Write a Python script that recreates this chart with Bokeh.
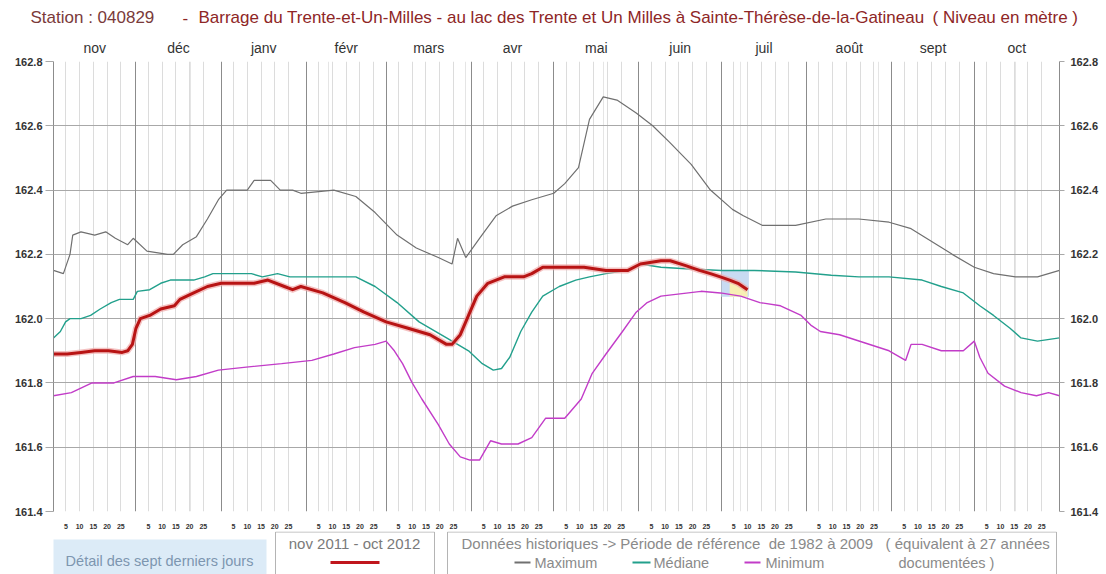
from bokeh.plotting import figure
from bokeh.layouts import column
from bokeh.models import (LinearAxis, FixedTicker, Range1d, Grid,
                          PrintfTickFormatter)
from bokeh.core.properties import value
from bokeh.embed import file_html
from bokeh.resources import INLINE

# ---------------- data ----------------
month_names = ["nov", "déc", "janv", "févr", "mars", "avr", "mai", "juin",
               "juil", "août", "sept", "oct"]
month_days = [30, 31, 31, 29, 31, 30, 31, 30, 31, 31, 30, 31]
day_labels = ["5", "10", "15", "20", "25"]
day_offsets = [4.5, 9.5, 14.5, 19.5, 24.5]
y_ticks = [161.4, 161.6, 161.8, 162.0, 162.2, 162.4, 162.6, 162.8]

# current year nov 2011 - oct 2012 (days since 1 Nov 2011)
cur_days = [0, 5, 10, 15, 20, 25, 27, 28.7, 30, 31.6, 35, 39, 44, 46, 51, 56, 61,
            65, 73, 78, 84, 87, 90, 98, 106, 113, 121, 129, 137, 143, 145, 148,
            151, 154, 158, 164, 171, 174, 178, 186, 193, 201, 209, 213.5, 221,
            224.4, 230, 235, 239, 242.6, 246, 249, 252.5]
cur_vals = [161.89, 161.89, 161.895, 161.90, 161.90, 161.895, 161.90, 161.92,
            161.97, 162.00, 162.01, 162.03, 162.04, 162.06, 162.08, 162.10,
            162.11, 162.11, 162.11, 162.12, 162.10, 162.09, 162.10, 162.08,
            162.05, 162.02, 161.99, 161.97, 161.95, 161.92, 161.92, 161.95,
            162.01, 162.07, 162.11, 162.13, 162.13, 162.14, 162.16, 162.16,
            162.16, 162.15, 162.15, 162.17, 162.18, 162.18, 162.165, 162.15,
            162.14, 162.13, 162.12, 162.11, 162.09]

max_days = [0, 3.6, 6, 7, 10, 15, 19, 22.5, 27, 29, 34, 41.5, 43.6, 47, 52, 56,
            60, 63, 70.5, 73, 79, 82.5, 87, 90, 102, 110, 117, 125, 132, 140,
            145, 147, 150, 155, 161, 167, 174, 182, 186, 191, 195, 200, 205,
            212, 218, 224, 232, 239, 247, 251, 258, 270, 281, 293, 304, 312,
            319.5, 327, 335, 342, 350, 358, 366]
max_vals = [162.15, 162.14, 162.20, 162.26, 162.27, 162.26, 162.27, 162.25,
            162.23, 162.25, 162.21, 162.20, 162.20, 162.23, 162.255, 162.31,
            162.37, 162.40, 162.40, 162.43, 162.43, 162.40, 162.40, 162.39,
            162.40, 162.38, 162.33, 162.26, 162.22, 162.19, 162.17, 162.25,
            162.19, 162.25, 162.32, 162.35, 162.37, 162.39, 162.42, 162.47,
            162.62, 162.69, 162.68, 162.64, 162.60, 162.55, 162.48, 162.40,
            162.34, 162.32, 162.29, 162.29, 162.31, 162.31, 162.30, 162.28,
            162.24, 162.20, 162.16, 162.14, 162.13, 162.13, 162.15]

med_days = [0, 2.5, 4.4, 6, 10, 13.5, 17, 21, 24, 29, 30.5, 35, 39, 42.5, 51,
            55, 58, 65.5, 72, 76, 81.5, 86, 90, 100, 110, 117, 125, 133, 143,
            151, 156, 160, 163, 166, 170, 174, 178, 184, 190, 195, 201, 209,
            213.5, 221, 230, 243, 255, 270, 283, 293, 304, 316, 323, 331, 337,
            342, 348, 352, 358, 366]
med_vals = [161.94, 161.96, 161.99, 162.00, 162.00, 162.01, 162.03, 162.05,
            162.06, 162.06, 162.085, 162.09, 162.11, 162.12, 162.12, 162.13,
            162.14, 162.14, 162.14, 162.13, 162.14, 162.13, 162.13, 162.13,
            162.13, 162.10, 162.05, 161.99, 161.94, 161.90, 161.86, 161.84,
            161.845, 161.88, 161.96, 162.02, 162.07, 162.10, 162.12, 162.13,
            162.14, 162.15, 162.17, 162.16, 162.155, 162.15, 162.15, 162.145,
            162.135, 162.13, 162.13, 162.12, 162.10, 162.08, 162.04, 162.01,
            161.97, 161.94, 161.93, 161.94]

min_days = [0, 6.5, 14, 22, 29, 37, 44.7, 52, 60, 71, 83, 94, 102, 109.5, 117,
            121, 124, 127, 130.5, 134, 140, 144, 148, 151.5, 155, 159, 163, 169,
            174, 179, 186, 192, 196, 201, 207, 212, 216, 221, 235.6, 242.6, 250,
            257, 264.5, 272, 275.5, 279, 286, 304, 310, 312, 316, 323, 331, 335,
            337, 340, 346, 352, 357.6, 362, 366]
min_vals = [161.76, 161.77, 161.80, 161.80, 161.82, 161.82, 161.81, 161.82,
            161.84, 161.85, 161.86, 161.87, 161.89, 161.91, 161.92, 161.93,
            161.90, 161.86, 161.80, 161.75, 161.67, 161.61, 161.57, 161.56,
            161.56, 161.62, 161.61, 161.61, 161.63, 161.69, 161.69, 161.75,
            161.83, 161.89, 161.96, 162.02, 162.05, 162.07, 162.085, 162.08,
            162.07, 162.05, 162.04, 162.01, 161.98, 161.96, 161.95, 161.90,
            161.87, 161.92, 161.92, 161.90, 161.90, 161.93, 161.88, 161.83,
            161.79, 161.77, 161.76, 161.77, 161.76]

# last seven days detail window
detail_days = [243, 253]
detail_range = [162.068, 162.15]

title_station = "Station : 040829"
title_main = "Barrage du Trente-et-Un-Milles - au lac des Trente et Un Milles à Sainte-Thérèse-de-la-Gatineau"
title_unit = "( Niveau en mètre )"
legend_detail = "Détail des sept derniers jours"
legend_period = "nov 2011 - oct 2012"
legend_hist = ("Données historiques -> Période de référence\u00a0 de 1982 à 2009"
               "\u00a0\u00a0 ( équivalent à 27 années")
legend_names = ["Maximum", "Médiane", "Minimum"]
legend_tail = "documentées )"

# ---------------- derived positions ----------------
month_starts = [sum(month_days[:i]) for i in range(len(month_days))]
total_days = sum(month_days)
month_centers = [s + n / 2 for s, n in zip(month_starts, month_days)]
day_pos = [s + o for s in month_starts for o in day_offsets]
day_overrides = {s + o: lab for s in month_starts
                 for o, lab in zip(day_offsets, day_labels)}

FONT = "Liberation Sans"
W = 1106

def blank(h, y0, y1):
    f = figure(width=W, height=h, output_backend="svg", toolbar_location=None,
               x_range=Range1d(0, W), y_range=Range1d(y1, y0),
               x_axis_location=None, y_axis_location=None,
               min_border_left=0, min_border_right=0,
               min_border_top=0, min_border_bottom=0, frame_align=False)
    f.outline_line_color = None
    f.xgrid.visible = False
    f.ygrid.visible = False
    f.background_fill_color = "white"
    f.border_fill_color = "white"
    return f

# ---------------- title strip (page y 0..36) ----------------
t = blank(36, 0, 36)
t.text(x=[30], y=[17], text=[title_station], text_font=value(FONT),
       text_font_size="17px", text_color="#7a3a3a", text_baseline="middle")
t.text(x=[182, 198, 932], y=[17, 17, 17], text=["-", title_main, title_unit],
       text_font=value(FONT), text_font_size="17px", text_color="#8e2626",
       text_baseline="middle")

# ---------------- main chart (page y 36..531) ----------------
p = figure(width=W, height=495, output_backend="svg", toolbar_location=None,
           x_range=Range1d(0, total_days), y_range=Range1d(161.4, 162.8),
           x_axis_location=None, y_axis_location=None,
           min_border_left=53, min_border_right=47, min_border_top=21,
           min_border_bottom=16, frame_align=False)
p.outline_line_color = None
p.background_fill_color = "white"
p.border_fill_color = "white"

p.add_layout(Grid(dimension=0, ticker=FixedTicker(ticks=day_pos),
                  grid_line_color="#dcdcdc", grid_line_width=1), "center")
p.add_layout(Grid(dimension=1, ticker=FixedTicker(ticks=y_ticks),
                  grid_line_color="#a8a8a8", grid_line_width=1), "center")
p.add_layout(Grid(dimension=0, ticker=FixedTicker(ticks=month_starts[1:]),
                  grid_line_color="#8c8c8c", grid_line_width=1), "center")

for side in ("left", "right"):
    ax = LinearAxis(ticker=FixedTicker(ticks=y_ticks),
                    formatter=PrintfTickFormatter(format="%.1f"))
    ax.axis_line_color = "#8c8c8c"
    ax.major_tick_line_color = "#a8a8a8"
    ax.major_tick_out = 8 if side == "left" else 5
    ax.major_tick_in = 0
    ax.minor_tick_line_color = None
    ax.major_label_standoff = 3 if side == "left" else 6
    ax.major_label_text_font = FONT
    ax.major_label_text_font_size = "11px"
    ax.major_label_text_font_style = "bold"
    ax.major_label_text_color = "#333333"
    p.add_layout(ax, side)

top = LinearAxis(ticker=FixedTicker(ticks=month_centers),
                 major_label_overrides={c: n for c, n in zip(month_centers, month_names)})
top.axis_line_color = None
top.major_tick_line_color = None
top.minor_tick_line_color = None
top.major_label_standoff = 0
top.major_label_text_font = FONT
top.major_label_text_font_size = "14px"
top.major_label_text_color = "#333333"
p.add_layout(top, "above")

bot = LinearAxis(ticker=FixedTicker(ticks=day_pos),
                 major_label_overrides=day_overrides)
bot.axis_line_color = None
bot.major_tick_line_color = None
bot.minor_tick_line_color = None
bot.major_label_standoff = 6
bot.major_label_text_font = FONT
bot.major_label_text_font_size = "7px"
bot.major_label_text_font_style = "bold"
bot.major_label_text_color = "#333333"
p.add_layout(bot, "below")

p.quad(left=[detail_days[0]], right=[detail_days[1]], bottom=[detail_range[0]],
       top=[detail_range[1]], fill_color="#c9dbf2", line_color=None)
sel = [i for i, d in enumerate(cur_days) if d >= 245]
p.varea(x=[cur_days[i] for i in sel], y1=[detail_range[0]] * len(sel),
        y2=[cur_vals[i] for i in sel], fill_color="#f7efb4")

p.line(max_days, max_vals, line_color="#707070", line_width=1.2)
p.line(med_days, med_vals, line_color="#22a08c", line_width=1.4)
p.line(min_days, min_vals, line_color="#c23cc8", line_width=1.4)
p.line(cur_days, cur_vals, line_color="#f0a8a8", line_width=6, line_alpha=0.7,
       line_join="round")
p.line(cur_days, cur_vals, line_color="#b81414", line_width=3, line_join="round")

# ---------------- legend strip (page y 531..574) ----------------
b = blank(43, 531, 574)
b.quad(left=[53], right=[266], top=[539], bottom=[580], fill_color="#dcebf7",
       line_color=None)
b.quad(left=[275, 447], right=[434, 1056], top=[531.5, 531.5], bottom=[580, 580],
       fill_color="white", line_color="#b4b4b4")
b.text(x=[159], y=[560], text=[legend_detail], text_font=value(FONT),
       text_font_size="14.5px", text_color="#7d96b0", text_align="center",
       text_baseline="middle")
b.text(x=[354], y=[543], text=[legend_period], text_font=value(FONT),
       text_font_size="15px", text_color="#7a7a7a", text_align="center",
       text_baseline="middle")
b.segment(x0=[330], y0=[562], x1=[379], y1=[562], line_color="#c0161c",
          line_width=3)
b.text(x=[461], y=[543], text=[legend_hist], text_font=value(FONT),
       text_font_size="15px", text_color="#8a8a8a", text_baseline="middle")
b.segment(x0=[514, 632, 744], y0=[562, 562, 562], x1=[530, 650, 760],
          y1=[562, 562, 562], line_color=["#707070", "#22a08c", "#c23cc8"],
          line_width=2)
b.text(x=[534, 653, 765, 898], y=[562, 562, 562, 562],
       text=legend_names + [legend_tail], text_font=value(FONT),
       text_font_size="14.5px", text_color="#8a8a8a", text_baseline="middle")

layout = column(t, p, b, spacing=0)
open("out.html", "w").write(file_html(layout, INLINE))
